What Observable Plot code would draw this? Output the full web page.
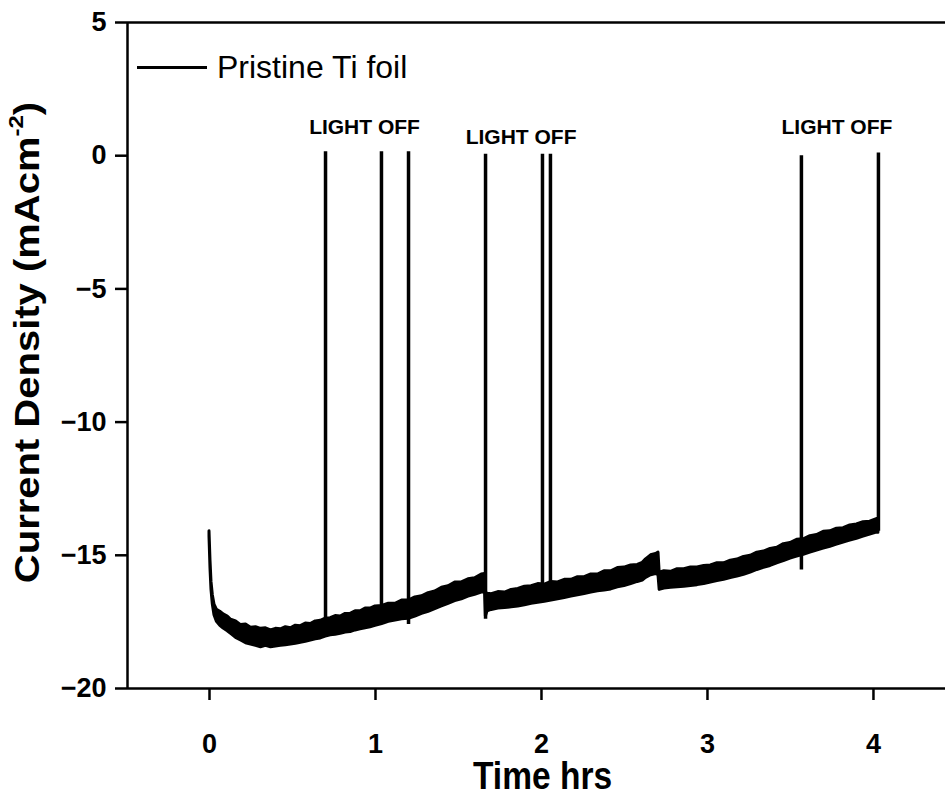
<!DOCTYPE html>
<html>
<head>
<meta charset="utf-8">
<script src="https://cdn.jsdelivr.net/npm/d3@7"></script>
<script src="https://cdn.jsdelivr.net/npm/@observablehq/plot@0.6"></script>
<style>
  html, body { margin: 0; padding: 0; background: #fff; }
  #wrap { position: relative; width: 945px; height: 800px; }
  #legend { position: absolute; left: 137px; top: 49px; display: flex; align-items: center;
            font-family: "Liberation Sans", Arial, sans-serif; font-size: 32px; color: #000; }
  #legend .swatch { width: 70px; height: 0; border-top: 3.5px solid #000; margin-right: 10px; }
</style>
</head>
<body>
<div id="wrap">
  <div id="chart"></div>
  <div id="legend"><span class="swatch"></span><span>Pristine Ti foil</span></div>
</div>
<script>
// ---- axis setup ----
const xDomain = [-0.494, 4.434];
const yDomain = [-20, 5];
const xTicks = [0, 1, 2, 3, 4];
const yTicks = [-20, -15, -10, -5, 0, 5];
const xTitle = "Time hrs";
const yTitle = "Current Density (mAcm-2)";
const seriesName = "Pristine Ti foil";

// ---- noisy photocurrent band (upper and lower edge of the trace), hours vs mA cm^-2 ----
const time = [0.000, 0.006, 0.012, 0.020, 0.030, 0.045, 0.065, 0.085, 0.11, 0.13,
  0.16, 0.19, 0.22, 0.25, 0.28, 0.31, 0.34, 0.37, 0.40, 0.43,
  0.46, 0.49, 0.52, 0.55, 0.58, 0.61, 0.64, 0.67, 0.70, 0.73,
  0.76, 0.79, 0.82, 0.85, 0.88, 0.91, 0.94, 0.97, 1.00, 1.04,
  1.08, 1.12, 1.16, 1.20, 1.24, 1.28, 1.32, 1.36, 1.40, 1.44,
  1.48, 1.52, 1.56, 1.60, 1.64, 1.66, 1.665, 1.675, 1.70, 1.74,
  1.78, 1.82, 1.86, 1.90, 1.94, 1.98, 2.02, 2.06, 2.10, 2.14,
  2.18, 2.22, 2.26, 2.30, 2.34, 2.38, 2.42, 2.46, 2.50, 2.54,
  2.58, 2.61, 2.63, 2.66, 2.69, 2.705, 2.712, 2.74, 2.78, 2.82,
  2.86, 2.90, 2.94, 2.98, 3.02, 3.06, 3.10, 3.14, 3.18, 3.22,
  3.26, 3.30, 3.34, 3.38, 3.42, 3.46, 3.50, 3.54, 3.58, 3.62,
  3.66, 3.70, 3.74, 3.78, 3.82, 3.86, 3.90, 3.94, 3.98, 4.02, 4.03];
const upper = [-14.10, -15.20, -16.00, -16.50, -16.85, -17.05, -17.12, -17.22, -17.30, -17.42,
  -17.48, -17.62, -17.60, -17.72, -17.70, -17.76, -17.74, -17.82, -17.76, -17.78,
  -17.70, -17.74, -17.64, -17.66, -17.56, -17.58, -17.48, -17.46, -17.38, -17.36,
  -17.28, -17.30, -17.20, -17.20, -17.10, -17.10, -17.00, -17.00, -16.92, -16.90,
  -16.82, -16.82, -16.70, -16.70, -16.58, -16.54, -16.42, -16.36, -16.22, -16.16,
  -16.02, -16.02, -15.90, -15.86, -15.72, -15.70, -16.40, -16.44, -16.46, -16.38,
  -16.40, -16.30, -16.26, -16.18, -16.16, -16.08, -16.10, -16.00, -16.02, -15.92,
  -15.92, -15.82, -15.82, -15.72, -15.72, -15.60, -15.60, -15.48, -15.46, -15.38,
  -15.36, -15.28, -15.15, -15.00, -14.95, -14.90, -15.65, -15.60, -15.62, -15.52,
  -15.52, -15.46, -15.46, -15.40, -15.38, -15.30, -15.30, -15.20, -15.16, -15.06,
  -15.02, -14.90, -14.86, -14.76, -14.72, -14.58, -14.54, -14.42, -14.40, -14.28,
  -14.24, -14.12, -14.10, -14.00, -13.98, -13.88, -13.84, -13.76, -13.74, -13.64, -13.65];
const lower = [-14.30, -15.50, -16.30, -16.85, -17.25, -17.50, -17.65, -17.75, -17.85, -17.95,
  -18.10, -18.20, -18.30, -18.35, -18.40, -18.45, -18.40, -18.45, -18.42, -18.40,
  -18.38, -18.35, -18.32, -18.28, -18.25, -18.20, -18.15, -18.12, -18.05, -18.00,
  -17.98, -17.95, -17.90, -17.88, -17.82, -17.78, -17.74, -17.70, -17.65, -17.58,
  -17.50, -17.45, -17.40, -17.38, -17.30, -17.20, -17.12, -17.02, -16.92, -16.82,
  -16.72, -16.65, -16.55, -16.48, -16.40, -16.38, -17.30, -17.10, -17.05, -17.00,
  -16.98, -16.95, -16.92, -16.88, -16.82, -16.78, -16.74, -16.70, -16.65, -16.60,
  -16.55, -16.50, -16.45, -16.40, -16.35, -16.32, -16.28, -16.20, -16.15, -16.08,
  -16.00, -15.95, -15.85, -15.75, -15.70, -15.75, -16.30, -16.25, -16.22, -16.20,
  -16.18, -16.15, -16.12, -16.08, -16.02, -15.97, -15.92, -15.85, -15.80, -15.73,
  -15.65, -15.55, -15.47, -15.40, -15.30, -15.22, -15.12, -15.05, -14.98, -14.90,
  -14.82, -14.75, -14.68, -14.60, -14.52, -14.45, -14.38, -14.30, -14.22, -14.15, -14.15];

// ---- light-off transients (vertical spikes) ----
const spikeTime = [0.699, 1.036, 1.199, 1.663, 2.006, 2.054, 3.566, 4.030];
const spikeTop = [0.15, 0.15, 0.15, 0.05, 0.05, 0.05, 0.00, 0.10];
const spikeBottom = [-17.50, -17.10, -17.60, -17.40, -16.50, -16.40, -15.55, -14.10];

// ---- annotations ----
const noteText = ["LIGHT OFF", "LIGHT OFF", "LIGHT OFF"];
const noteTime = [0.934, 1.877, 3.780];
const noteValue = [1.05, 0.69, 1.05];

const band = time.map((t, i) => ({t, hi: upper[i], lo: lower[i]}));
const spikes = spikeTime.map((t, i) => ({t, hi: spikeTop[i], lo: spikeBottom[i]}));
const notes = noteText.map((s, i) => ({s, t: noteTime[i], v: noteValue[i]}));

const chart = Plot.plot({
  width: 945,
  height: 800,
  marginLeft: 127,
  marginRight: 0,
  marginTop: 22,
  marginBottom: 112,
  style: {fontFamily: "'Liberation Sans', Arial, sans-serif", background: "#fff", color: "#000", overflow: "visible"},
  x: {domain: xDomain},
  y: {domain: yDomain},
  marks: [
    Plot.areaY(band, {x: "t", y1: "lo", y2: "hi", fill: "#000", stroke: "#000", strokeWidth: 3, strokeLinejoin: "round", curve: "linear"}),
    Plot.ruleX(spikes, {x: "t", y1: "lo", y2: "hi", stroke: "#000", strokeWidth: 3.5}),
    Plot.ruleY(yDomain, {stroke: "#000", strokeWidth: 2.5}),
    Plot.ruleX([xDomain[0]], {stroke: "#000", strokeWidth: 2.5}),
    Plot.axisX({ticks: xTicks, tickFormat: "d", tickSize: 12, tickPadding: 33, strokeWidth: 2.5, fontSize: 27, fontWeight: "bold", label: null}),
    Plot.axisY({ticks: yTicks, tickFormat: "d", tickSize: 12, tickPadding: 9, strokeWidth: 2.5, fontSize: 27, fontWeight: "bold", label: null}),
    Plot.text(notes, {x: "t", y: "v", text: "s", fontSize: 21, fontWeight: "bold", lineAnchor: "middle"}),
    Plot.text([xTitle], {frameAnchor: "bottom", dx: 6, dy: 88, fontSize: 39, fontWeight: "bold", textAnchor: "middle", lineAnchor: "middle", className: "xtitle"}),
    Plot.text([yTitle], {frameAnchor: "left", dx: -100, dy: -13, rotate: -90, fontSize: 40, fontWeight: "bold", textAnchor: "middle", lineAnchor: "middle", className: "ytitle"})
  ]
});
document.getElementById("chart").appendChild(chart);

// squeeze axis titles horizontally (as in the reference) and set superscript
const xt = chart.querySelector(".xtitle text");
if (xt) xt.setAttribute("transform", (xt.getAttribute("transform") || "") + " scale(0.86,1)");
const yt = chart.querySelector(".ytitle text");
if (yt) {
  yt.setAttribute("transform", (yt.getAttribute("transform") || "") + " scale(1,0.86)");
  yt.textContent = "";
  const ns = "http://www.w3.org/2000/svg";
  const a = document.createElementNS(ns, "tspan"); a.textContent = "Current Density (mAcm";
  const b = document.createElementNS(ns, "tspan"); b.textContent = "-2"; b.setAttribute("font-size", "0.6em"); b.setAttribute("dy", "-0.75em");
  const c = document.createElementNS(ns, "tspan"); c.textContent = ")"; c.setAttribute("dy", "0.45em");
  yt.append(a, b, c);
}
</script>
</body>
</html>
